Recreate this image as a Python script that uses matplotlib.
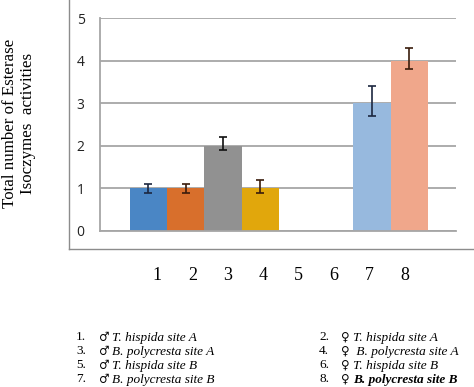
import numpy as np
import matplotlib
matplotlib.use('Agg')
import matplotlib.pyplot as plt
from matplotlib.lines import Line2D

# data
categories = [1, 2, 3, 4, 5, 6, 7, 8]
values = [1, 1, 2, 1, 0, 0, 3, 4]
err_low = [0.1, 0.1, 0.1, 0.1, 0, 0, 0.3, 0.2]
err_high = [0.1, 0.1, 0.2, 0.2, 0, 0, 0.4, 0.3]
bar_colors = ['#4a86c5', '#d86f2c', '#919191', '#e1a70c',
              '#ffffff', '#ffffff', '#97b9de', '#f0a78b']
err_colors = ['#1c2740', '#3a1c0c', '#111111', '#3a1c0c',
              '#000000', '#000000', '#1c2740', '#3a1c0c']
legend_items = [
    ('1.', '\u2642', 'T. hispida site A'),
    ('2.', '\u2640', 'T. hispida site A'),
    ('3.', '\u2642', 'B. polycresta site A'),
    ('4.', '\u2640', ' B. polycresta site A'),
    ('5.', '\u2642', 'T. hispida site B'),
    ('6.', '\u2640', 'T. hispida site B'),
    ('7.', '\u2642', 'B. polycresta site B'),
    ('8.', '\u2640', 'B. polycresta site B'),
]

W, H = 474, 387
fig = plt.figure(figsize=(W / 100, H / 100), dpi=100)
ax = fig.add_axes([100 / W, (H - 231) / H, 356 / W, 213 / H])

grid_c = '#a6a6a6'
ax.bar(categories, values, width=1.0, color=bar_colors, zorder=2)
for x, v, lo, hi, ec in zip(categories, values, err_low, err_high, err_colors):
    if v > 0:
        ax.errorbar(x, v, yerr=[[lo], [hi]], fmt='none', ecolor=ec,
                    elinewidth=1.2, capsize=2.6, capthick=1.2, zorder=3)

ax.set_xlim(-0.3, 9.25)
ax.set_ylim(0, 5)
ax.set_yticks(range(6))
ax.yaxis.grid(True, color=grid_c, lw=1.3, zorder=0)
ax.set_axisbelow(True)
ax.set_xticks([])
ax.tick_params(axis='y', length=0, pad=11, labelsize=10, labelcolor='#222222')
for lab in ax.get_yticklabels():
    lab.set_fontfamily('Open Sans')
for s in ['top', 'right']:
    ax.spines[s].set_visible(False)
ax.spines['left'].set_color(grid_c)
ax.spines['bottom'].set_color(grid_c)
ax.spines['left'].set_linewidth(1.3)
ax.spines['bottom'].set_linewidth(1.3)

# number row under the chart box
for xp, c in zip(np.linspace(157, 405, 8), categories):
    fig.text(xp / W, 1 - 276 / H, str(c), ha='center', va='center',
             fontsize=13, family='Liberation Serif')

# y label
fig.text(19 / W, 1 - 123 / H, 'Total number of Esterase\nIsoczymes  activities',
         rotation=90, ha='center', va='center', fontsize=12.2,
         family='Liberation Serif', linespacing=1.2)

# outer box
box_c = '#8c8c8c'
fig.add_artist(Line2D([69 / W, 69 / W], [1 - 249 / H, 1], color=box_c, lw=1.0,
                      transform=fig.transFigure))
fig.add_artist(Line2D([69 / W, 1], [1 - 249 / H, 1 - 249 / H], color=box_c, lw=1.0,
                      transform=fig.transFigure))

# legend block
row_y = [337.5, 351.5, 365.5, 379.5]
col_x = [(76, 99, 112), (319, 341, 353)]
for i, (num, sym, name) in enumerate(legend_items):
    nx, sx, tx = col_x[i % 2]
    yy = 1 - row_y[i // 2] / H
    fig.text(nx / W, yy, num, ha='left', va='center', fontsize=9.5,
             family='Liberation Serif')
    fig.text(sx / W, yy, sym, ha='left', va='center', fontsize=8.5,
             family=['DejaVu Serif'])
    fig.text(tx / W, yy, name, ha='left', va='center', fontsize=9.5,
             family='Liberation Serif', style='italic',
             weight='bold' if i == 7 else 'normal')

plt.savefig('out.png', dpi=100)
